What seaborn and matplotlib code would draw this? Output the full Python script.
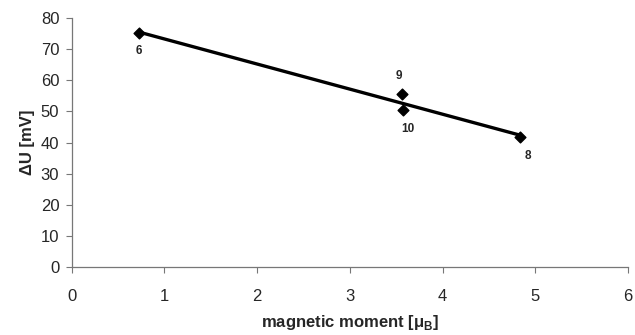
import matplotlib
matplotlib.use("Agg")
import matplotlib.pyplot as plt
import seaborn as sns
import pandas as pd

moment = [0.72, 3.56, 3.57, 4.84]
delta_u = [75.3, 55.5, 50.5, 41.8]
labels = ["6", "9", "10", "8"]
label_offsets = [(0, -13), (-2, 13), (4, -14), (5, -14)]

df = pd.DataFrame({"moment": moment, "du": delta_u})

sns.set_style("white")
plt.rcParams["font.family"] = ["Liberation Sans", "DejaVu Sans"]
plt.rcParams["mathtext.fontset"] = "custom"
plt.rcParams["mathtext.rm"] = "Liberation Sans"
plt.rcParams["mathtext.bf"] = "Liberation Sans:bold"

fig = plt.figure(figsize=(6.35, 3.35), dpi=100)
ax = fig.add_axes([0.113, 0.203, 0.876, 0.743])

sns.regplot(data=df, x="moment", y="du", ci=None, ax=ax, truncate=True, marker="D",
            scatter_kws=dict(s=30, color="black", alpha=1, zorder=3),
            line_kws=dict(color="black", lw=2.4))

for xv, yv, lab, (dx, dy) in zip(moment, delta_u, labels, label_offsets):
    ax.annotate(lab, (xv, yv), xytext=(dx, dy), textcoords="offset points",
                ha="center", va="center", fontsize=8.5, fontweight="bold")

ax.set_xlim(0, 6)
ax.set_ylim(0, 80)
ax.set_xticks(range(0, 7))
ax.set_yticks(range(0, 81, 10))
ax.tick_params(axis="both", labelsize=12, length=4, width=0.8, color="#777777",
               direction="out", bottom=True, left=True, pad=5)
ax.tick_params(axis="x", pad=12)
for s in ["top", "right"]:
    ax.spines[s].set_visible(False)
for s in ["left", "bottom"]:
    ax.spines[s].set_color("#777777")
    ax.spines[s].set_linewidth(0.9)

ax.set_xlabel("magnetic moment [μ$_\\mathbf{B}$]", fontsize=12, fontweight="bold", labelpad=6)
ax.set_ylabel("ΔU [mV]", fontsize=12, fontweight="bold", labelpad=4)

fig.savefig("out.png", dpi=100)
